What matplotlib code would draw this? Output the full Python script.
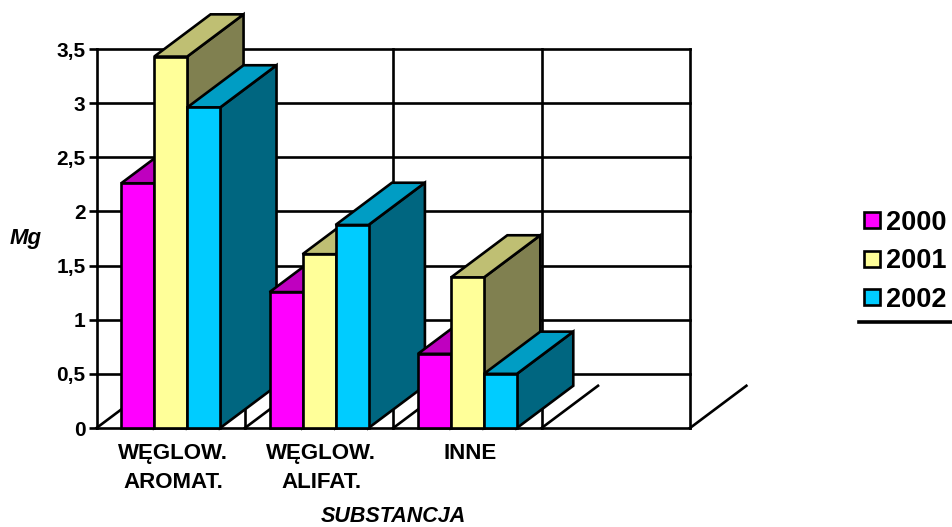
import matplotlib
matplotlib.use("Agg")
from matplotlib import pyplot as plt
from matplotlib.lines import Line2D
from matplotlib.patches import Polygon

plt.rcParams['font.family'] = ['Liberation Sans', 'DejaVu Sans']
plt.rcParams['font.weight'] = 'bold'

categories = ["WĘGLOW.\nAROMAT.", "WĘGLOW.\nALIFAT.", "INNE"]
years = ["2000", "2001", "2002"]
values_2000 = [2.26, 1.255, 0.685]
values_2001 = [3.43, 1.605, 1.39]
values_2002 = [2.96, 1.875, 0.5]
y_ticks = [0, 0.5, 1, 1.5, 2, 2.5, 3, 3.5]
y_tick_labels = ["0", "0,5", "1", "1,5", "2", "2,5", "3", "3,5"]

# front, top and side shades of each series
front_colors = ["#FF00FF", "#FFFF99", "#00CCFF"]
top_colors = ["#BF00BF", "#BFBF73", "#009DC4"]
side_colors = ["#800080", "#808050", "#006680"]

W, H = 952, 527
LW = 1.9
NUM_SLOTS = 4
BAR_W = 2 / 9
GAP = (1 - 3 * BAR_W) / 2
# fake 3D offset of the box depth, in data units
DEPTH_X = 0.38
DEPTH_Y = 0.39


def draw_bar(ax, x, value, i, zorder):
    """Draw one box: front face, top face and right side."""
    x1 = x + BAR_W
    faces = [
        ([(x1, 0), (x1 + DEPTH_X, DEPTH_Y), (x1 + DEPTH_X, value + DEPTH_Y), (x1, value)], side_colors[i]),
        ([(x, value), (x + DEPTH_X, value + DEPTH_Y), (x1 + DEPTH_X, value + DEPTH_Y), (x1, value)], top_colors[i]),
        ([(x, 0), (x1, 0), (x1, value), (x, value)], front_colors[i]),
    ]
    for pts, color in faces:
        ax.add_patch(Polygon(pts, closed=True, facecolor=color, edgecolor="black",
                             linewidth=LW, joinstyle="miter", clip_on=False, zorder=zorder))


fig = plt.figure(figsize=(W / 100, H / 100), dpi=100)
ax = fig.add_axes([96.5 / W, 1 - 428 / H, (690 - 96.5) / W, (428 - 49) / H])
ax.set_xlim(0, NUM_SLOTS)
ax.set_ylim(0, 3.5)
for spine in ax.spines.values():
    spine.set_visible(False)

# walls and floor
for y in y_ticks:
    ax.plot([0, NUM_SLOTS], [y, y], color="black", lw=LW, zorder=1, clip_on=False)
for x in range(NUM_SLOTS + 1):
    top = 3.5 if x != 1 else DEPTH_Y * 0.42
    ax.plot([x, x], [0, top], color="black", lw=LW, zorder=1, clip_on=False)
    ax.plot([x, x + DEPTH_X], [0, DEPTH_Y], color="black", lw=LW, zorder=1, clip_on=False)

series = [values_2000, values_2001, values_2002]
for group in range(len(categories)):
    for i, values in enumerate(series):
        draw_bar(ax, group + GAP + i * BAR_W, values[group], i, 2 + group * 3 + i)

ax.set_yticks(y_ticks, y_tick_labels, fontsize=15)
ax.tick_params(axis="y", length=6, width=LW, pad=2)
ax.set_xticks([g + 0.515 for g in range(len(categories))], categories, fontsize=16, linespacing=1.5)
ax.tick_params(axis="x", length=0, pad=10.5)

ax.set_ylabel("Mg", rotation=0, fontsize=16, fontstyle="italic", fontweight="bold")
ax.yaxis.set_label_coords((26 - 96.5) / (690 - 96.5), (428 - 249) / (428 - 49))
ax.set_xlabel("SUBSTANCJA", fontsize=15.5, fontstyle="italic", fontweight="bold")
ax.xaxis.set_label_coords((393 - 96.5) / (690 - 96.5), (428 - 506) / (428 - 49))

handles = [Line2D([], [], linestyle="none", marker="s", markersize=11, markerfacecolor=c,
                  markeredgecolor="black", markeredgewidth=1.9) for c in front_colors]
fig.legend(handles, years, loc="upper left", bbox_to_anchor=(841 / W, 1 - 191 / H), frameon=False,
           fontsize=19.5, handlelength=0.92, handletextpad=0.05, labelspacing=0.46, borderpad=0.2)
fig.add_artist(Line2D([859 / W, 1], [1 - 322 / H, 1 - 322 / H], color="black", lw=2.6))

fig.savefig("out.png", dpi=100)
